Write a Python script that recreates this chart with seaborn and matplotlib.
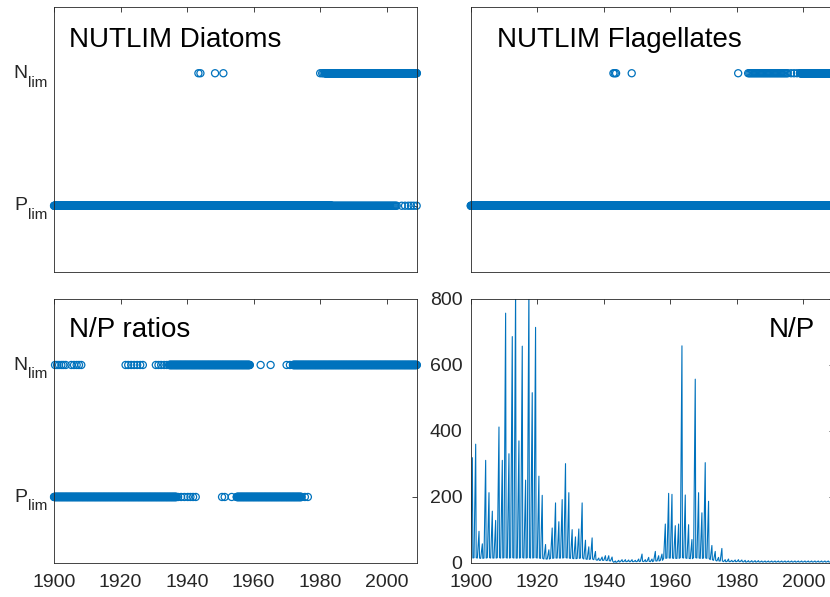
import numpy as np
import pandas as pd
import matplotlib
matplotlib.use('Agg')
from matplotlib import pyplot as plt
import seaborn as sns

# ---- data ----
# limitation flags: level 1 = N_lim, level 0 = P_lim
# spans are (start, stop, sampling step) in years, points are single dates
diat_N_spans = [(1981.4, 2009.1, 1 / 12)]
diat_N_points = [1943.4, 1944.0, 1948.4, 1950.9, 1980.0, 1980.6, 1981.0]
diat_P_spans = [(1900.0, 1983.5, 1 / 12), (1983.5, 2003.0, 0.3)]
diat_P_points = [2004.5, 2005.5, 2006.5, 2007.3, 2008.1, 2009.0]

flag_N_spans = [(1983.4, 1995.5, 0.35), (1999.0, 2009.1, 1 / 12)]
flag_N_points = [1942.9, 1943.3, 1943.7, 1948.4, 1980.4, 1996.3, 1997.2, 1998.1]
flag_P_spans = [(1900.0, 2009.1, 1 / 12)]
flag_P_points = []

ratio_N_spans = [(1934.6, 1958.9, 1 / 12), (1971.8, 2009.1, 1 / 12)]
ratio_N_points = [1900.3, 1900.9, 1901.5, 1902.2, 1902.8, 1903.5, 1905.2, 1906.0,
                  1906.8, 1907.5, 1908.2, 1921.5, 1922.3, 1923.2, 1924.1, 1925.0,
                  1925.9, 1926.7, 1930.6, 1931.4, 1932.2, 1933.1, 1933.9,
                  1962.1, 1965.1, 1969.9, 1970.9]
ratio_P_spans = [(1900.0, 1936.9, 1 / 12), (1954.9, 1974.4, 1 / 12)]
ratio_P_points = [1937.3, 1938.2, 1939.2, 1940.2, 1941.0, 1941.8, 1942.6,
                  1950.5, 1951.3, 1953.4, 1975.4, 1976.3]

# N/P ratio: one seasonal spike per year
np_years = list(range(1900, 2009))
np_peak = [319, 360, 96, 58, 311, 213, 157, 129, 412, 311,
           757, 331, 686, 830, 370, 657, 251, 840, 516, 714,
           263, 205, 56, 40, 106, 182, 125, 192, 301, 213,
           101, 79, 103, 182, 69, 49, 76, 35, 15, 18,
           22, 22, 18, 6, 8, 10, 10, 9, 10, 8,
           12, 27, 10, 17, 12, 35, 22, 27, 118, 211,
           208, 113, 118, 658, 206, 116, 71, 557, 213, 152,
           304, 187, 53, 35, 17, 44, 10, 12, 8, 9,
           10, 9, 8, 7, 7, 7, 7, 6, 6, 6,
           6, 6, 6, 6, 6, 6, 6, 6, 6, 6,
           6, 6, 6, 6, 6, 6, 6, 6, 6]
np_base = [15, 16, 15, 14, 15, 16, 15, 15, 16, 15,
           16, 15, 16, 15, 15, 16, 15, 16, 15, 16,
           15, 14, 12, 12, 14, 15, 15, 15, 16, 15,
           14, 13, 14, 15, 12, 11, 12, 10, 8, 8,
           8, 7, 6, 2, 3, 4, 4, 4, 4, 4,
           4, 5, 4, 5, 4, 6, 6, 8, 14, 15,
           15, 14, 14, 16, 15, 14, 13, 16, 15, 14,
           15, 14, 10, 8, 6, 6, 4, 4, 4, 4,
           4, 4, 3, 3, 3, 3, 3, 3, 3, 3,
           3, 3, 3, 3, 3, 3, 3, 3, 3, 3,
           3, 3, 3, 3, 3, 3, 3, 3, 3]

x_ticks = [1900, 1920, 1940, 1960, 1980, 2000]
lim_levels = [0, 1]
lim_letters = ['P', 'N']
np_ticks = [0, 200, 400, 600, 800]

blue = '#0072BD'
dark = '#262626'
x_max = 2009.1


def flags(n_spans, n_points, p_spans, p_points):
    rows = []
    for level, spans, points in ((1, n_spans, n_points), (0, p_spans, p_points)):
        for a, b, step in spans:
            for t in np.arange(a, b + 1e-9, step):
                rows.append((t, level))
        for t in points:
            rows.append((t, level))
    return pd.DataFrame(rows, columns=['year', 'level'])


np_t, np_v = [], []
for y, pk, bs in zip(np_years, np_peak, np_base):
    np_t += [y, y + 0.5, y + 0.65]
    np_v += [bs, pk, bs]
np_t.append(x_max)
np_v.append(np_base[-1])
np_df = pd.DataFrame({'year': np_t, 'ratio': np_v})

sns.set_style('white')
plt.rcParams['font.family'] = ['Liberation Sans', 'DejaVu Sans']

fig = plt.figure(figsize=(8.30, 5.97), dpi=100)
w, h = 0.4373, 0.4439
ax_tl = fig.add_axes([0.0651, 0.5444, w, h])
ax_tr = fig.add_axes([0.5671, 0.5444, w, h])
ax_bl = fig.add_axes([0.0651, 0.0570, w, 0.4422])
ax_br = fig.add_axes([0.5671, 0.0570, w, 0.4422])

panels = [
    (ax_tl, flags(diat_N_spans, diat_N_points, diat_P_spans, diat_P_points)),
    (ax_tr, flags(flag_N_spans, flag_N_points, flag_P_spans, flag_P_points)),
    (ax_bl, flags(ratio_N_spans, ratio_N_points, ratio_P_spans, ratio_P_points)),
]
for ax, df in panels:
    sns.scatterplot(data=df, x='year', y='level', ax=ax, marker='o', s=26,
                    facecolor='none', edgecolor=blue, linewidth=0.9,
                    clip_on=False, legend=False)
    ax.set_ylim(-0.5, 1.5)
    ax.set_yticks(lim_levels)

sns.lineplot(data=np_df, x='year', y='ratio', ax=ax_br, color=blue,
             linewidth=0.8, estimator=None, sort=False)
ax_br.set_ylim(0, 800)
ax_br.set_yticks(np_ticks)

for ax in (ax_tl, ax_tr, ax_bl, ax_br):
    ax.set_xlim(1900, x_max)
    ax.set_xticks(x_ticks)
    ax.set_xlabel('')
    ax.set_ylabel('')
    ax.tick_params(direction='in', length=3.5, width=0.6, colors=dark,
                   labelcolor=dark, top=True, right=True, labelsize=14)
    ax.tick_params(axis='x', pad=8)
    ax.tick_params(axis='y', pad=6)
    for s in ax.spines.values():
        s.set_color(dark)
        s.set_linewidth(0.6)

ax_tl.set_xticklabels([])
ax_tr.set_xticklabels([])
ax_tr.set_yticklabels([])
ax_br.set_yticklabels([str(v) for v in np_ticks])

# N_lim / P_lim labels drawn as letter + lowered subscript
for ax in (ax_tl, ax_bl):
    ax.set_yticklabels([])
    for level, letter in zip(lim_levels, lim_letters):
        ax.annotate(letter, xy=(0, level), xycoords=('axes fraction', 'data'),
                    xytext=(-19.4, -3.4), textcoords='offset points',
                    ha='right', va='baseline', fontsize=14, color=dark)
        ax.annotate('lim', xy=(0, level), xycoords=('axes fraction', 'data'),
                    xytext=(-4.8, -9.7), textcoords='offset points',
                    ha='right', va='baseline', fontsize=11, color=dark)

ax_tl.text(0.041, 0.849, 'NUTLIM Diatoms', transform=ax_tl.transAxes,
           fontsize=20, va='baseline', ha='left', color='black')
ax_tr.text(0.073, 0.849, 'NUTLIM Flagellates', transform=ax_tr.transAxes,
           fontsize=20, va='baseline', ha='left', color='black')
ax_bl.text(0.041, 0.857, 'N/P ratios', transform=ax_bl.transAxes,
           fontsize=20, va='baseline', ha='left', color='black')
ax_br.text(0.9485, 0.857, 'N/P', transform=ax_br.transAxes,
           fontsize=20, va='baseline', ha='right', color='black')

fig.savefig('out.png', dpi=100)
